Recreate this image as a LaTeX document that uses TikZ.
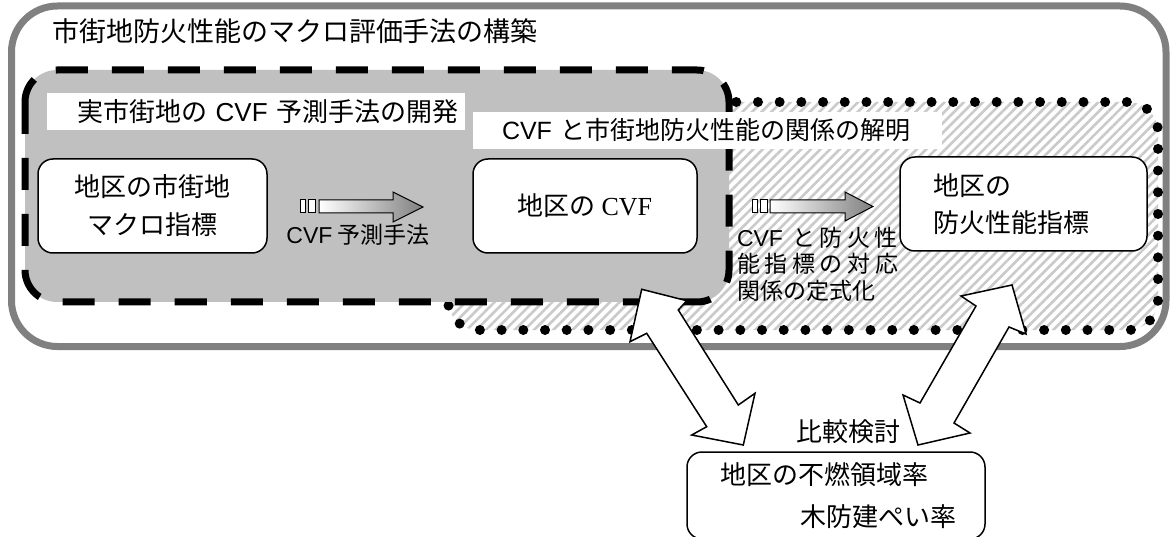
\documentclass[tikz,border=0pt]{standalone}
\usepackage{fontspec}
\setmainfont{Noto Sans CJK JP}
\newfontfamily\lsans{Liberation Sans}
\newfontfamily\lserif{Liberation Serif}
\usetikzlibrary{patterns.meta}
\definecolor{regiongray}{HTML}{C0C0C0}
\definecolor{bordergray}{HTML}{808080}
\definecolor{hatchgray}{HTML}{CACACA}
\newcommand\cvfsans{{\lsans CVF}}
\newcommand\cvfserif{{\lserif CVF}}
\begin{document}
\begin{tikzpicture}[x=1pt,y=-1pt,
  every node/.style={inner sep=0pt, outer sep=0pt},
  box/.style={draw=black, line width=1.5pt, fill=white, rounded corners=15pt},
  labelbox/.style={fill=white, minimum height=37pt, align=left},
  outerframe/.style={draw=bordergray, line width=7pt, rounded corners=46pt},
  dashframe/.style={fill=regiongray, draw=black, line width=7pt, dash pattern=on 32pt off 24pt, rounded corners=32pt},
  dotframe/.style={draw=black, line width=10pt, dash pattern=on 0pt off 21.7pt, line cap=round, rounded corners=30pt},
  hatch/.style={pattern={Lines[angle=45,distance=6.8pt,line width=2.6pt]}, pattern color=hatchgray, rounded corners=30pt},
  gradarrow/.style={left color=white, right color=bordergray, draw=black, line width=1pt},
  smallbox/.style={fill=white, draw=black, line width=1pt},
  fatarrow/.style={fill=white, draw=black, line width=1.5pt, line join=miter},
  f27/.style={font=\fontsize{27pt}{30pt}\selectfont},
  f26/.style={font=\fontsize{26pt}{38pt}\selectfont},
  f25/.style={font=\fontsize{25pt}{30pt}\selectfont},
  f23/.style={font=\fontsize{23pt}{26.5pt}\selectfont},
]
\useasboundingbox (0,0) rectangle (1175,537);

% outer frame
\draw[outerframe] (11.5,6) rectangle (1166,346.5);
\node[f27, anchor=west] (title) at (52,31) {市街地防火性能のマクロ評価手法の構築};

% hatched dotted region
\path[fill=white, rounded corners=30pt] (448,102) rectangle (1158,330);
\path[hatch] (448,102) rectangle (1158,330);
\draw[dotframe] (448,102) rectangle (1158,330);

% gray dashed region
\filldraw[dashframe] (25,70) rectangle (729,302);

% labels
\node[labelbox, f26, text width=418pt, anchor=west] (lab1) at (47,111.5)
  {\hspace*{30pt}実市街地の \cvfsans\ 予測手法の開発};
\node[labelbox, f25, text width=469pt, anchor=west] (lab2) at (473,130.5)
  {\hspace*{29pt}\cvfsans\ と市街地防火性能の関係の解明};

% nodes
\node[box, f26, minimum width=229pt, minimum height=94pt, align=center] (macro) at (152.5,206)
  {地区の市街地\\マクロ指標};
\node[box, f26, minimum width=224pt, minimum height=94pt] (cvf) at (585,206)
  {地区の \cvfserif};
\node[box, f26, text width=181pt, inner xsep=33pt, minimum height=94pt, align=left, font=\fontsize{26pt}{37pt}\selectfont] (fire) at (1023.5,204)
  {地区の\\防火性能指標};
\node[box, text width=232pt, inner xsep=33pt, minimum height=87pt, align=left, font=\fontsize{26pt}{42pt}\selectfont] (funen) at (836,495.5)
  {地区の不燃領域率\\\hspace*{80pt}木防建ぺい率};

% gradient arrow 1
\draw[smallbox] (300,200) rectangle (305,213);
\draw[smallbox] (308,200) rectangle (315,213);
\shade[gradarrow] (319,200) -- (393,200) -- (393,192) -- (423,207) -- (393,222) -- (393,213) -- (319,213) -- cycle;
\node[f23] (lab3) at (358,235) {\cvfsans\ 予測手法};

% gradient arrow 2
\draw[smallbox] (752,200) rectangle (757,213);
\draw[smallbox] (760,200) rectangle (767,213);
\shade[gradarrow] (770,200) -- (845,200) -- (845,192) -- (873,206.5) -- (845,221) -- (845,213) -- (770,213) -- cycle;
\node[f23, anchor=west] (lab4a) at (737,238) {\hbox to 161pt{\cvfsans\hfil\hfil と\hfil 防\hfil 火\hfil 性}};
\node[f23, anchor=west] (lab4b) at (737,264) {\hbox to 161pt{能\hfil 指\hfil 標\hfil の\hfil 対\hfil 応}};
\node[f23, anchor=west] (lab4c) at (737,291) {関係の定式化};

% fat double arrows
\draw[fatarrow] (641.7,289.3) -- (686.7,300.7) -- (678.3,310) -- (738.3,405) -- (755,393.3)
  -- (743.3,445) -- (691.7,435) -- (706.7,426.7) -- (646.7,333.3) -- (630,341.7) -- cycle;
\draw[fatarrow] (1012,285) -- (1026,334) -- (1009,327) -- (954,423) -- (970,433)
  -- (918,445) -- (903,395) -- (920,403) -- (976,306) -- (961,296) -- cycle;
\node[font=\fontsize{26pt}{30pt}\selectfont] (hikaku) at (848,432) {比較検討};
\end{tikzpicture}
\end{document}
